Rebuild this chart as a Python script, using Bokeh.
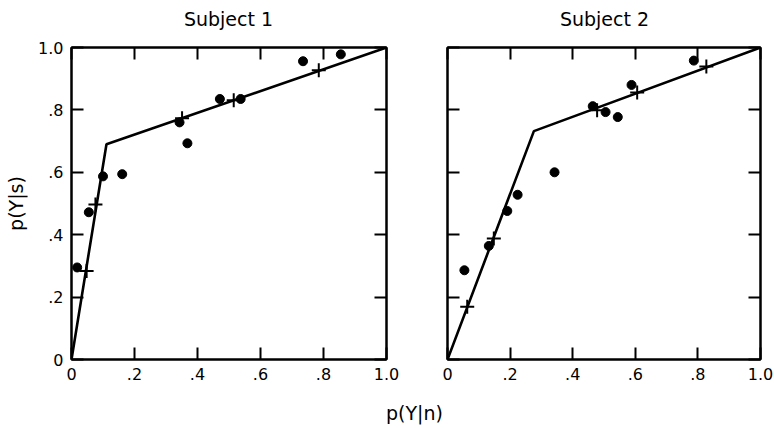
from bokeh.plotting import figure
from bokeh.layouts import row, column
from bokeh.models import Range1d, LinearAxis, FixedTicker, Label
from bokeh.embed import file_html
from bokeh.resources import INLINE

# ---- data ----
tick_vals = [0, 0.2, 0.4, 0.6, 0.8, 1.0]
tick_labels = ["0", ".2", ".4", ".6", ".8", "1.0"]
titles = ["Subject 1", "Subject 2"]

s1_dot_x = [0.018, 0.055, 0.10, 0.161, 0.343, 0.368, 0.471, 0.537, 0.735, 0.855]
s1_dot_y = [0.295, 0.472, 0.587, 0.594, 0.760, 0.693, 0.835, 0.835, 0.956, 0.978]
s1_cross_x = [0.048, 0.076, 0.351, 0.515, 0.785]
s1_cross_y = [0.284, 0.497, 0.773, 0.831, 0.927]
s1_line_x = [0.0, 0.111, 1.0]
s1_line_y = [0.0, 0.690, 1.0]

s2_dot_x = [0.054, 0.132, 0.191, 0.224, 0.342, 0.464, 0.505, 0.544, 0.588, 0.787]
s2_dot_y = [0.286, 0.364, 0.476, 0.528, 0.600, 0.812, 0.793, 0.777, 0.880, 0.958]
s2_cross_x = [0.063, 0.148, 0.478, 0.606, 0.827]
s2_cross_y = [0.169, 0.388, 0.799, 0.856, 0.939]
s2_line_x = [0.0, 0.276, 1.0]
s2_line_y = [0.0, 0.732, 1.0]

FONT = "DejaVu Sans"
overrides = {v: t for v, t in zip(tick_vals, tick_labels)}


def style_axis(ax, show_labels):
    ax.ticker = FixedTicker(ticks=tick_vals)
    ax.major_tick_in = 12
    ax.major_tick_out = 0
    ax.minor_tick_in = 0
    ax.minor_tick_out = 0
    ax.major_tick_line_width = 2
    ax.major_tick_line_color = "black"
    ax.axis_line_width = 2
    ax.axis_line_color = "black"
    if show_labels:
        ax.major_label_overrides = overrides
        ax.major_label_text_font = FONT
        ax.major_label_text_font_size = "16px"
        ax.major_label_text_color = "black"
        ax.major_label_standoff = 8
    else:
        ax.major_label_text_font_size = "1px"
        ax.major_label_text_color = None
        ax.major_label_text_alpha = 0
        ax.major_label_standoff = 0


def make_panel(width, mb_left, mb_top, mb_bottom, show_y_labels,
               dx, dy, cx, cy, lx, ly):
    p = figure(width=width, height=356, x_range=Range1d(0, 1), y_range=Range1d(0, 1),
               output_backend="svg", toolbar_location=None,
               min_border_left=mb_left, min_border_right=14,
               min_border_top=mb_top, min_border_bottom=mb_bottom)
    p.grid.visible = False
    p.outline_line_color = "black"
    p.outline_line_width = 2
    p.background_fill_color = "white"
    p.border_fill_color = "white"

    style_axis(p.xaxis[0], True)
    style_axis(p.yaxis[0], show_y_labels)
    if show_y_labels:
        p.yaxis[0].axis_label = "p(Y|s)"
        p.yaxis[0].axis_label_text_font = FONT
        p.yaxis[0].axis_label_text_font_size = "19px"
        p.yaxis[0].axis_label_text_font_style = "normal"
        p.yaxis[0].axis_label_text_color = "black"
        p.yaxis[0].axis_label_standoff = 8

    top = LinearAxis()
    style_axis(top, False)
    p.add_layout(top, "above")
    right = LinearAxis()
    style_axis(right, False)
    p.add_layout(right, "right")

    p.line(lx, ly, line_width=2.6, line_color="black")
    p.scatter(dx, dy, marker="circle", size=9, fill_color="black", line_color="black")
    p.scatter(cx, cy, marker="cross", size=14, line_width=2, line_color="black")
    return p


def strip(height, texts, xs, y):
    s = figure(width=774, height=height, x_range=Range1d(0, 774), y_range=Range1d(0, height),
               output_backend="svg", toolbar_location=None, min_border=0)
    s.axis.visible = False
    s.grid.visible = False
    s.outline_line_color = None
    for t, x in zip(texts, xs):
        s.add_layout(Label(x=x, y=y, x_units="screen", y_units="screen", text=t,
                           text_font=FONT, text_font_size="19px", text_align="center",
                           text_baseline="middle", text_color="black"))
    return s


p0 = strip(36, titles, [228, 604], 18)
p1 = make_panel(400, 71, 11, 31, True,
                s1_dot_x, s1_dot_y, s1_cross_x, s1_cross_y, s1_line_x, s1_line_y)
p2 = make_panel(374, 47, 8, 33, False,
                s2_dot_x, s2_dot_y, s2_cross_x, s2_cross_y, s2_line_x, s2_line_y)
p3 = strip(36, ["p(Y|n)"], [414], 16)

layout = column(p0, row(p1, p2), p3)
open("out.html", "w").write(file_html(layout, INLINE))
